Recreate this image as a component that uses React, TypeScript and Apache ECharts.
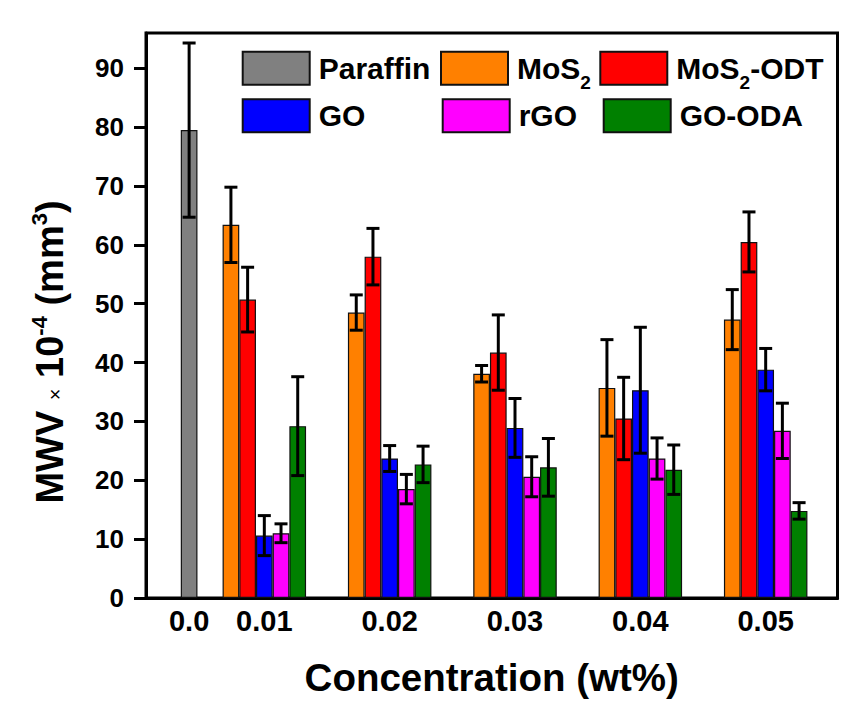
import React, { useEffect, useRef } from "react";
import * as echarts from "echarts";

// ---- data ----
const concLabels = ["0.0", "0.01", "0.02", "0.03", "0.04", "0.05"];
// axis slot of each concentration group (0.0 group is drawn closer to 0.01)
const groupSlots = [0.4, 1, 2, 3, 4, 5];

const seriesNames = ["Paraffin", "MoS2", "MoS2-ODT", "GO", "rGO", "GO-ODA"];
const seriesColors = ["#808080", "#FF8000", "#FF0000", "#0000FF", "#FF00FF", "#008000"];

// Paraffin only at 0.0
const paraffinValues = [79.5];
const paraffinErrors = [14.8];

// MoS2 ... GO-ODA at 0.01 .. 0.05
const mos2Values = [63.4, 48.5, 38.1, 35.7, 47.3];
const mos2Errors = [6.4, 3.0, 1.4, 8.2, 5.1];
const mos2OdtValues = [50.7, 58.0, 41.7, 30.5, 60.5];
const mos2OdtErrors = [5.5, 4.8, 6.4, 7.0, 5.1];
const goValues = [10.6, 23.7, 28.9, 35.3, 38.8];
const goErrors = [3.4, 2.2, 5.0, 10.7, 3.6];
const rgoValues = [11.0, 18.5, 20.6, 23.7, 28.4];
const rgoErrors = [1.6, 2.5, 3.4, 3.5, 4.7];
const goOdaValues = [29.2, 22.7, 22.2, 21.8, 14.8];
const goOdaErrors = [8.4, 3.1, 4.9, 4.2, 1.4];

const yTicks = [0, 10, 20, 30, 40, 50, 60, 70, 80, 90];

const xTitle = "Concentration (wt%)";
const yTitle = "MWV {x|×} 10{sup|-4} (mm{sup|3})";

const FONT = "'Liberation Sans', Arial, Helvetica, sans-serif";
const BAR_W = 16.7;

export default function App() {
  const ref = useRef<HTMLDivElement>(null);

  useEffect(() => {
    if (!ref.current) return;
    const chart = echarts.init(ref.current, undefined, { renderer: "svg" });

    const groupValues = [mos2Values, mos2OdtValues, goValues, rgoValues, goOdaValues];
    const groupErrors = [mos2Errors, mos2OdtErrors, goErrors, rgoErrors, goOdaErrors];
    const groupX = groupSlots.slice(1);

    const barSeries: any[] = [];
    const errSeries: any[] = [];

    const errRender = (offset: number) => (params: any, api: any) => {
      const x = api.value(0);
      const y = api.value(1);
      const e = api.value(2);
      const top = api.coord([x, y + e]);
      const bot = api.coord([x, y - e]);
      const cx = top[0] + offset;
      const cap = 6.5;
      const st = { stroke: "#000", lineWidth: 3 };
      return {
        type: "group",
        children: [
          { type: "line", shape: { x1: cx, y1: top[1], x2: cx, y2: bot[1] }, style: st },
          { type: "line", shape: { x1: cx - cap, y1: top[1], x2: cx + cap, y2: top[1] }, style: st },
          { type: "line", shape: { x1: cx - cap, y1: bot[1], x2: cx + cap, y2: bot[1] }, style: st },
        ],
      };
    };

    // Paraffin on its own (hidden) x axis so it is centred on its slot
    barSeries.push({
      name: seriesNames[0],
      type: "bar",
      xAxisIndex: 1,
      barWidth: BAR_W,
      itemStyle: { color: seriesColors[0], borderColor: "#111", borderWidth: 1.2 },
      data: paraffinValues.map((v, i) => [groupSlots[i], v]),
    });
    errSeries.push({
      type: "custom",
      xAxisIndex: 0,
      z: 5,
      renderItem: errRender(0),
      data: paraffinValues.map((v, i) => [groupSlots[i], v, paraffinErrors[i]]),
    });

    groupValues.forEach((vals, k) => {
      barSeries.push({
        name: seriesNames[k + 1],
        type: "bar",
        xAxisIndex: 0,
        barWidth: BAR_W,
        barGap: "0%",
        itemStyle: { color: seriesColors[k + 1], borderColor: "#111", borderWidth: 1.2 },
        data: vals.map((v, i) => [groupX[i], v]),
      });
      errSeries.push({
        type: "custom",
        xAxisIndex: 0,
        z: 5,
        renderItem: errRender((k - 2) * BAR_W),
        data: vals.map((v, i) => [groupX[i], v, groupErrors[k][i]]),
      });
    });

    const legendPos = [
      [241.7, 50.7],
      [440, 50.7],
      [599.3, 50.7],
      [241.7, 98.3],
      [441.7, 98.3],
      [602.7, 98.3],
    ];

    const legendFmt = (name: string) => {
      if (name === "MoS2") return "MoS{sub|2}";
      if (name === "MoS2-ODT") return "MoS{sub|2}-ODT";
      return name;
    };

    const legends = seriesNames.map((n, i) => ({
      data: [n],
      left: legendPos[i][0],
      top: legendPos[i][1],
      padding: 0,
      itemWidth: 67,
      itemHeight: 33,
      icon: "rect",
      formatter: legendFmt,
      textStyle: {
        fontFamily: FONT,
        fontWeight: "bold",
        fontSize: 30,
        color: "#000",
        padding: [0, 0, 0, 4],
        rich: {
          sub: {
            fontFamily: FONT,
            fontWeight: "bold",
            fontSize: 19,
            color: "#000",
            padding: [29, 0, 0, 0],
          },
        },
      },
    }));

    const xMin = 0.056;
    const xMax = 5.573;

    chart.setOption({
      animation: false,
      backgroundColor: "#fff",
      grid: {
        left: 146,
        right: 13.5,
        top: 33,
        bottom: 122,
        show: true,
        borderColor: "#000",
        borderWidth: 3,
        backgroundColor: "transparent",
      },
      legend: legends,
      graphic: [
        {
          type: "text",
          x: 50,
          y: 352,
          rotation: Math.PI / 2,
          style: {
            text: yTitle,
            fontFamily: FONT,
            fontWeight: "bold",
            fontSize: 38,
            fill: "#000",
            align: "center",
            verticalAlign: "middle",
            rich: {
              x: { fontFamily: FONT, fontWeight: "normal", fontSize: 20, fill: "#000", padding: [10, 0, 0, 0] },
              sup: { fontFamily: FONT, fontWeight: "bold", fontSize: 22, fill: "#000", padding: [0, 0, 21, 0] },
            },
          },
        },
      ],
      xAxis: [
        {
          type: "value",
          min: xMin,
          max: xMax,
          splitLine: { show: false },
          axisLine: { show: true, onZero: false, lineStyle: { color: "#000", width: 3 } },
          axisTick: { show: false },
          axisLabel: {
            customValues: groupSlots,
            formatter: (v: number) => {
              const idx = groupSlots.findIndex((s) => Math.abs(s - v) < 1e-6);
              return idx >= 0 ? concLabels[idx] : "";
            },
            fontFamily: FONT,
            fontWeight: "bold",
            fontSize: 29,
            color: "#000",
            margin: 8,
          },
          name: xTitle,
          nameLocation: "middle",
          nameGap: 60,
          nameTextStyle: { fontFamily: FONT, fontWeight: "bold", fontSize: 38.5, color: "#000" },
        },
        {
          type: "value",
          min: xMin,
          max: xMax,
          show: false,
        },
      ],
      yAxis: {
        type: "value",
        min: 0,
        max: 96,
        splitLine: { show: false },
        axisLine: { show: true, lineStyle: { color: "#000", width: 3 } },
        axisTick: {
          show: true,
          inside: false,
          length: 12,
          customValues: yTicks,
          lineStyle: { color: "#000", width: 3 },
        },
        axisLabel: {
          customValues: yTicks,
          fontFamily: FONT,
          fontWeight: "bold",
          fontSize: 26,
          color: "#000",
          margin: 22,
        },
      },
      series: [...barSeries, ...errSeries],
    });

    return () => chart.dispose();
  }, []);

  return (
    <div
      ref={ref}
      style={{ position: "absolute", left: 0, top: 0, width: 851, height: 720 }}
    />
  );
}
